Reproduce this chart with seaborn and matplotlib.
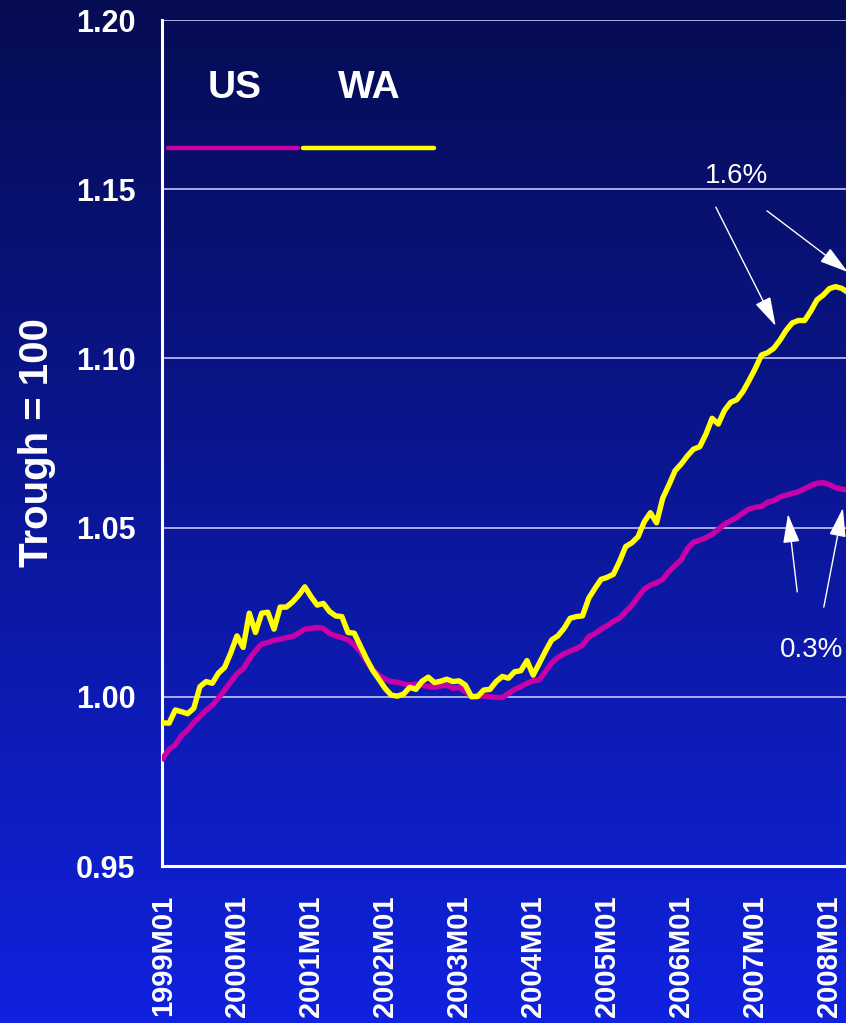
import numpy as np
import pandas as pd
import matplotlib
matplotlib.use("Agg")
import matplotlib.pyplot as plt
import seaborn as sns
from matplotlib.lines import Line2D

# ---------------- data ----------------
wa_values = [
    0.9923, 0.9922, 0.9961, 0.9956, 0.9950, 0.9966, 1.0030, 1.0045, 1.0040, 1.0070,
    1.0087, 1.0130, 1.0180, 1.0146, 1.0247, 1.0190, 1.0247, 1.0250, 1.0200, 1.0265,
    1.0265, 1.0280, 1.0300, 1.0325, 1.0296, 1.0271, 1.0276, 1.0252, 1.0239, 1.0237,
    1.0190, 1.0188, 1.0150, 1.0112, 1.0078, 1.0052, 1.0025, 1.0005, 1.0002, 1.0008,
    1.0028, 1.0022, 1.0046, 1.0058, 1.0042, 1.0046, 1.0052, 1.0045, 1.0047, 1.0035,
    1.0000, 1.0001, 1.0020, 1.0022, 1.0045, 1.0060, 1.0055, 1.0074, 1.0077, 1.0107,
    1.0064, 1.0099, 1.0135, 1.0168, 1.0180, 1.0202, 1.0232, 1.0237, 1.0239, 1.0291,
    1.0320, 1.0347, 1.0353, 1.0362, 1.0400, 1.0444, 1.0455, 1.0473, 1.0517, 1.0544,
    1.0514, 1.0587, 1.0626, 1.0668, 1.0688, 1.0712, 1.0732, 1.0739, 1.0776, 1.0823,
    1.0806, 1.0846, 1.0870, 1.0878, 1.0902, 1.0935, 1.0970, 1.1010, 1.1017, 1.1030,
    1.1054, 1.1083, 1.1105, 1.1112, 1.1112, 1.1140, 1.1173, 1.1187, 1.1206, 1.1212,
    1.1207, 1.1195,
]
us_values = [
    0.9818, 0.9845, 0.9858, 0.9885, 0.9902, 0.9924, 0.9942, 0.9960, 0.9975, 0.9996,
    1.0020, 1.0044, 1.0068, 1.0083, 1.0112, 1.0136, 1.0156, 1.0160, 1.0167, 1.0170,
    1.0175, 1.0178, 1.0188, 1.0200, 1.0202, 1.0205, 1.0202, 1.0187, 1.0180, 1.0175,
    1.0168, 1.0153, 1.0133, 1.0105, 1.0080, 1.0064, 1.0052, 1.0045, 1.0043, 1.0038,
    1.0035, 1.0038, 1.0034, 1.0030, 1.0028, 1.0032, 1.0034, 1.0025, 1.0028, 1.0015,
    1.0003, 1.0002, 1.0002, 1.0000, 0.9998, 0.9998, 1.0010, 1.0022, 1.0030, 1.0040,
    1.0047, 1.0050, 1.0075, 1.0100, 1.0116, 1.0127, 1.0135, 1.0143, 1.0152, 1.0178,
    1.0186, 1.0200, 1.0210, 1.0223, 1.0232, 1.0252, 1.0270, 1.0295, 1.0318, 1.0330,
    1.0337, 1.0347, 1.0370, 1.0388, 1.0405, 1.0438, 1.0457, 1.0463, 1.0470, 1.0480,
    1.0495, 1.0510, 1.0520, 1.0530, 1.0543, 1.0555, 1.0560, 1.0562, 1.0575, 1.0580,
    1.0590, 1.0596, 1.0601, 1.0606, 1.0615, 1.0624, 1.0631, 1.0633, 1.0627, 1.0618,
    1.0614, 1.0610,
]
tick_labels = ["1999M01", "2000M01", "2001M01", "2002M01", "2003M01",
               "2004M01", "2005M01", "2006M01", "2007M01", "2008M01"]
y_ticks = [0.95, 1.00, 1.05, 1.10, 1.15, 1.20]
series_names = ["US", "WA"]
colors = {"US": "#C800A8", "WA": "#FFFF00"}

months = np.arange(len(wa_values))
df = pd.concat([
    pd.DataFrame({"month": months, "value": us_values, "series": "US"}),
    pd.DataFrame({"month": months, "value": wa_values, "series": "WA"}),
])

# ---------------- figure ----------------
plt.rcParams["font.family"] = ["Liberation Sans", "DejaVu Sans"]
W, H = 846, 1023
fig = plt.figure(figsize=(W / 100, H / 100), dpi=100)

# gradient background
bg = fig.add_axes([0, 0, 1, 1], zorder=-10)
t = np.linspace(0, 1, 256)[:, None]
top = np.array([6, 12, 82]) / 255.0
bot = np.array([16, 34, 222]) / 255.0
grad = top[None, None, :] * (1 - t[:, :, None]) + bot[None, None, :] * t[:, :, None]
bg.imshow(grad, aspect="auto", extent=[0, 1, 0, 1], origin="upper")
bg.axis("off")

ax = fig.add_axes([162 / W, 1 - 866 / H, 1 - 162 / W, (866 - 20) / H])
ax.patch.set_alpha(0)

sns.lineplot(data=df, x="month", y="value", hue="series", palette=colors,
             hue_order=series_names, linewidth=3.9, legend=False, ax=ax,
             zorder=3)

ax.set_xlim(-0.15, 110.7)
ax.set_ylim(0.95, 1.20)
ax.set_yticks(y_ticks)
ax.set_yticklabels([f"{v:.2f}" for v in y_ticks])
ax.set_xticks(np.arange(0, 12 * len(tick_labels), 12))
ax.set_xticklabels(tick_labels, rotation=90)
ax.tick_params(axis="y", length=0, colors="white", labelsize=22, pad=19)
ax.tick_params(axis="x", length=0, colors="white", labelsize=21, pad=21)
for lab in ax.get_xticklabels() + ax.get_yticklabels():
    lab.set_fontweight("bold")
    lab.set_color("white")

ax.set_xlabel("")
ax.set_ylabel("Trough = 100", color="white", fontsize=29, fontweight="bold")
ax.yaxis.set_label_coords(-0.155, 0.5)

ax.grid(axis="y", color="#B4B8F0", linewidth=1.3, zorder=1)
ax.grid(axis="x", visible=False)
for s in ["top", "right"]:
    ax.spines[s].set_visible(False)
for s in ["left", "bottom"]:
    ax.spines[s].set_color("white")
    ax.spines[s].set_linewidth(2.2)

# legend (labels above line samples)
tr = ax.transAxes
ax.text(0.1067, 0.9196, "US", transform=tr, color="white", fontsize=28,
        fontweight="bold", ha="center", va="center")
ax.text(0.3026, 0.9196, "WA", transform=tr, color="white", fontsize=28,
        fontweight="bold", ha="center", va="center")
ax.add_line(Line2D([0.0088, 0.1988], [0.8487, 0.8487], transform=tr,
                   color=colors["US"], linewidth=3.2, solid_capstyle="round"))
ax.add_line(Line2D([0.2061, 0.3977], [0.8487, 0.8487], transform=tr,
                   color=colors["WA"], linewidth=3.2, solid_capstyle="round"))

# annotations
arrow = dict(arrowstyle="-|>,head_length=0.9,head_width=0.26", color="white",
             lw=1.0, shrinkA=0, shrinkB=0, mutation_scale=20)
ax.text(93.0, 1.1540, "1.6%", color="white", fontsize=20, ha="center", va="center")
ax.annotate("", xy=(99.3, 1.1096), xytext=(89.6, 1.1447), arrowprops=arrow,
            annotation_clip=False)
ax.annotate("", xy=(111.0, 1.1255), xytext=(97.9, 1.1436), arrowprops=arrow,
            annotation_clip=False)
ax.text(105.2, 1.0137, "0.3%", color="white", fontsize=20, ha="center", va="center")
ax.annotate("", xy=(101.3, 1.0540), xytext=(102.8, 1.0310), arrowprops=arrow,
            annotation_clip=False)
ax.annotate("", xy=(110.2, 1.0558), xytext=(107.1, 1.0265), arrowprops=arrow,
            annotation_clip=False)

fig.savefig("out.png", dpi=100)
